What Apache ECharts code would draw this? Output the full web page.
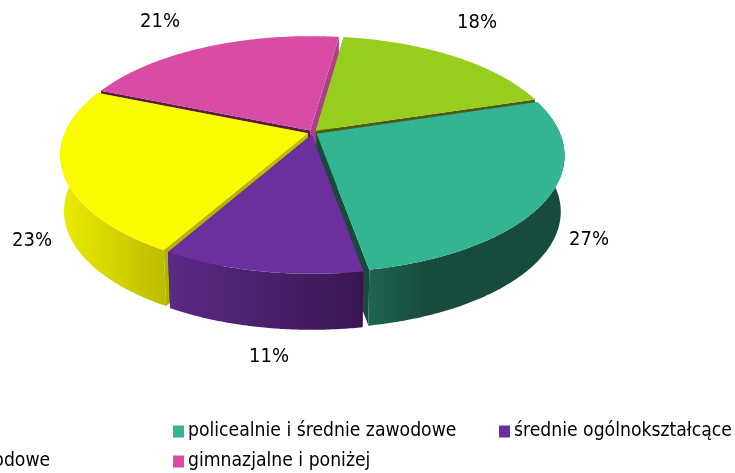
<!DOCTYPE html>
<html><head><meta charset="utf-8">
<style>html,body{margin:0;padding:0;background:#fff}#c{width:735px;height:473px}</style>
<script src="https://cdn.jsdelivr.net/npm/echarts@6/dist/echarts.min.js"></script></head>
<body><div id="c"></div>
<script>
const categories = ['wyższe','policealnie i średnie zawodowe','średnie ogólnokształcące','zasadnicze zawodowe','gimnazjalne i poniżej'];
const shares = [18,27,11,23,21];
const topColors = ['#97CE1E','#33B593','#6D2F9E','#FAFA00','#D84CA6'];
const wallFrom = ['#6f9716','#1F6450','#5B2A86','#ECEC00','#A23A7C'];
const wallTo = ['#6f9716','#164B3D','#391650','#BCBC00','#A23A7C'];
const wallMid = [0.5,0.3,0.5,0.5,0.5];
const cutStart = ['#6f9716','#1F6450','#4A1F6C','#B4B400','#5A1E46'];
const cutEnd = ['#4F5C10','#164B3D','#4A1F6C','#BCBC00','#B03F8A'];
// layout
const CX=312.5, CY=132.5, RX=243, RY=112.5, K=0.1845, DEPTH=56, BOTTOM_SCALE=0.985, EXPLODE=0.02, START=8;
const LABEL_POS=[[477,23],[589,240],[269,357],[32,241],[160,22]];
const LEGEND_POS=[[-90,422],[173,422],[499,422],[-156,452],[173,452]];
const FONT='"DejaVu Sans Condensed","DejaVu Sans",sans-serif';
const PAINT_ORDER=[4,0,3,1,2];

const total=shares.reduce((a,b)=>a+b,0);
const spans=[];let acc=START;
shares.forEach(v=>{const d=v/total*360;spans.push([acc,acc+d]);acc+=d;});
function rad(d){return d*Math.PI/180;}
function proj(deg,r,mid,bottom){
  const u=Math.sin(rad(deg))*r+EXPLODE*Math.sin(rad(mid));
  const v=-Math.cos(rad(deg))*r-EXPLODE*Math.cos(rad(mid));
  const s=1/(1-K*v);
  let x=RX*u*s,y=RY*v*s;
  if(bottom){x*=BOTTOM_SCALE;y+=DEPTH;}
  return [CX+x,CY+y];
}
function arc(a,b,mid,bottom){const p=[];const n=Math.ceil(Math.abs(b-a)*2);for(let i=0;i<=n;i++)p.push(proj(a+(b-a)*i/n,1,mid,bottom));return p;}
function poly(points,fill){return {type:'polygon',shape:{points},style:{fill},silent:true};}
function makeRender(idx){
  return function(){
    const [a,b]=spans[idx],mid=(a+b)/2;
    const apexT=proj(0,0,mid,false),apexB=proj(0,0,mid,true);
    const topArc=arc(a,b,mid,false),botArc=arc(a,b,mid,true);
    const stops=(idx===2||idx===3)
      ?[{offset:0,color:wallFrom[idx]},{offset:1,color:wallTo[idx]}]
      :[{offset:0,color:wallFrom[idx]},{offset:wallMid[idx],color:wallTo[idx]},{offset:1,color:wallTo[idx]}];
    const grad=new echarts.graphic.LinearGradient(0,0,1,0,stops);
    const backOnly=Math.cos(rad(a))>0&&Math.cos(rad(b))>0;
    const children=[
      poly([apexT,topArc[0],botArc[0],apexB],cutStart[idx]),
      poly([apexT,topArc[topArc.length-1],botArc[botArc.length-1],apexB],cutEnd[idx])
    ];
    if(!backOnly)children.push(poly(topArc.concat(botArc.slice().reverse()),grad));
    children.push(poly([apexT].concat(topArc),topColors[idx]));
    return {type:'group',children};
  };
}
const series=PAINT_ORDER.map((idx,o)=>({
  type:'custom',name:categories[idx],coordinateSystem:'none',silent:true,z:2+o,
  itemStyle:{color:topColors[idx]},
  data:[shares[idx]],renderItem:makeRender(idx)
}));
const chart=echarts.init(document.getElementById('c'),null,{renderer:'canvas'});
chart.setOption({
  animation:false,backgroundColor:'#fff',
  legend:categories.map((n,i)=>({
    data:[n],left:LEGEND_POS[i][0],top:LEGEND_POS[i][1],icon:'rect',itemWidth:11,itemHeight:12,itemGap:0,padding:0,
    selectedMode:false,textStyle:{fontFamily:FONT,fontSize:19.2,color:'#000',padding:[0,0,0,-1]}
  })),
  graphic:shares.map((v,i)=>({type:'text',x:LABEL_POS[i][0],y:LABEL_POS[i][1],z:20,silent:true,
    style:{text:v+'%',fontFamily:FONT,fontSize:20,fill:'#000',align:'center',verticalAlign:'middle'}})),
  series
});
</script></body></html>
